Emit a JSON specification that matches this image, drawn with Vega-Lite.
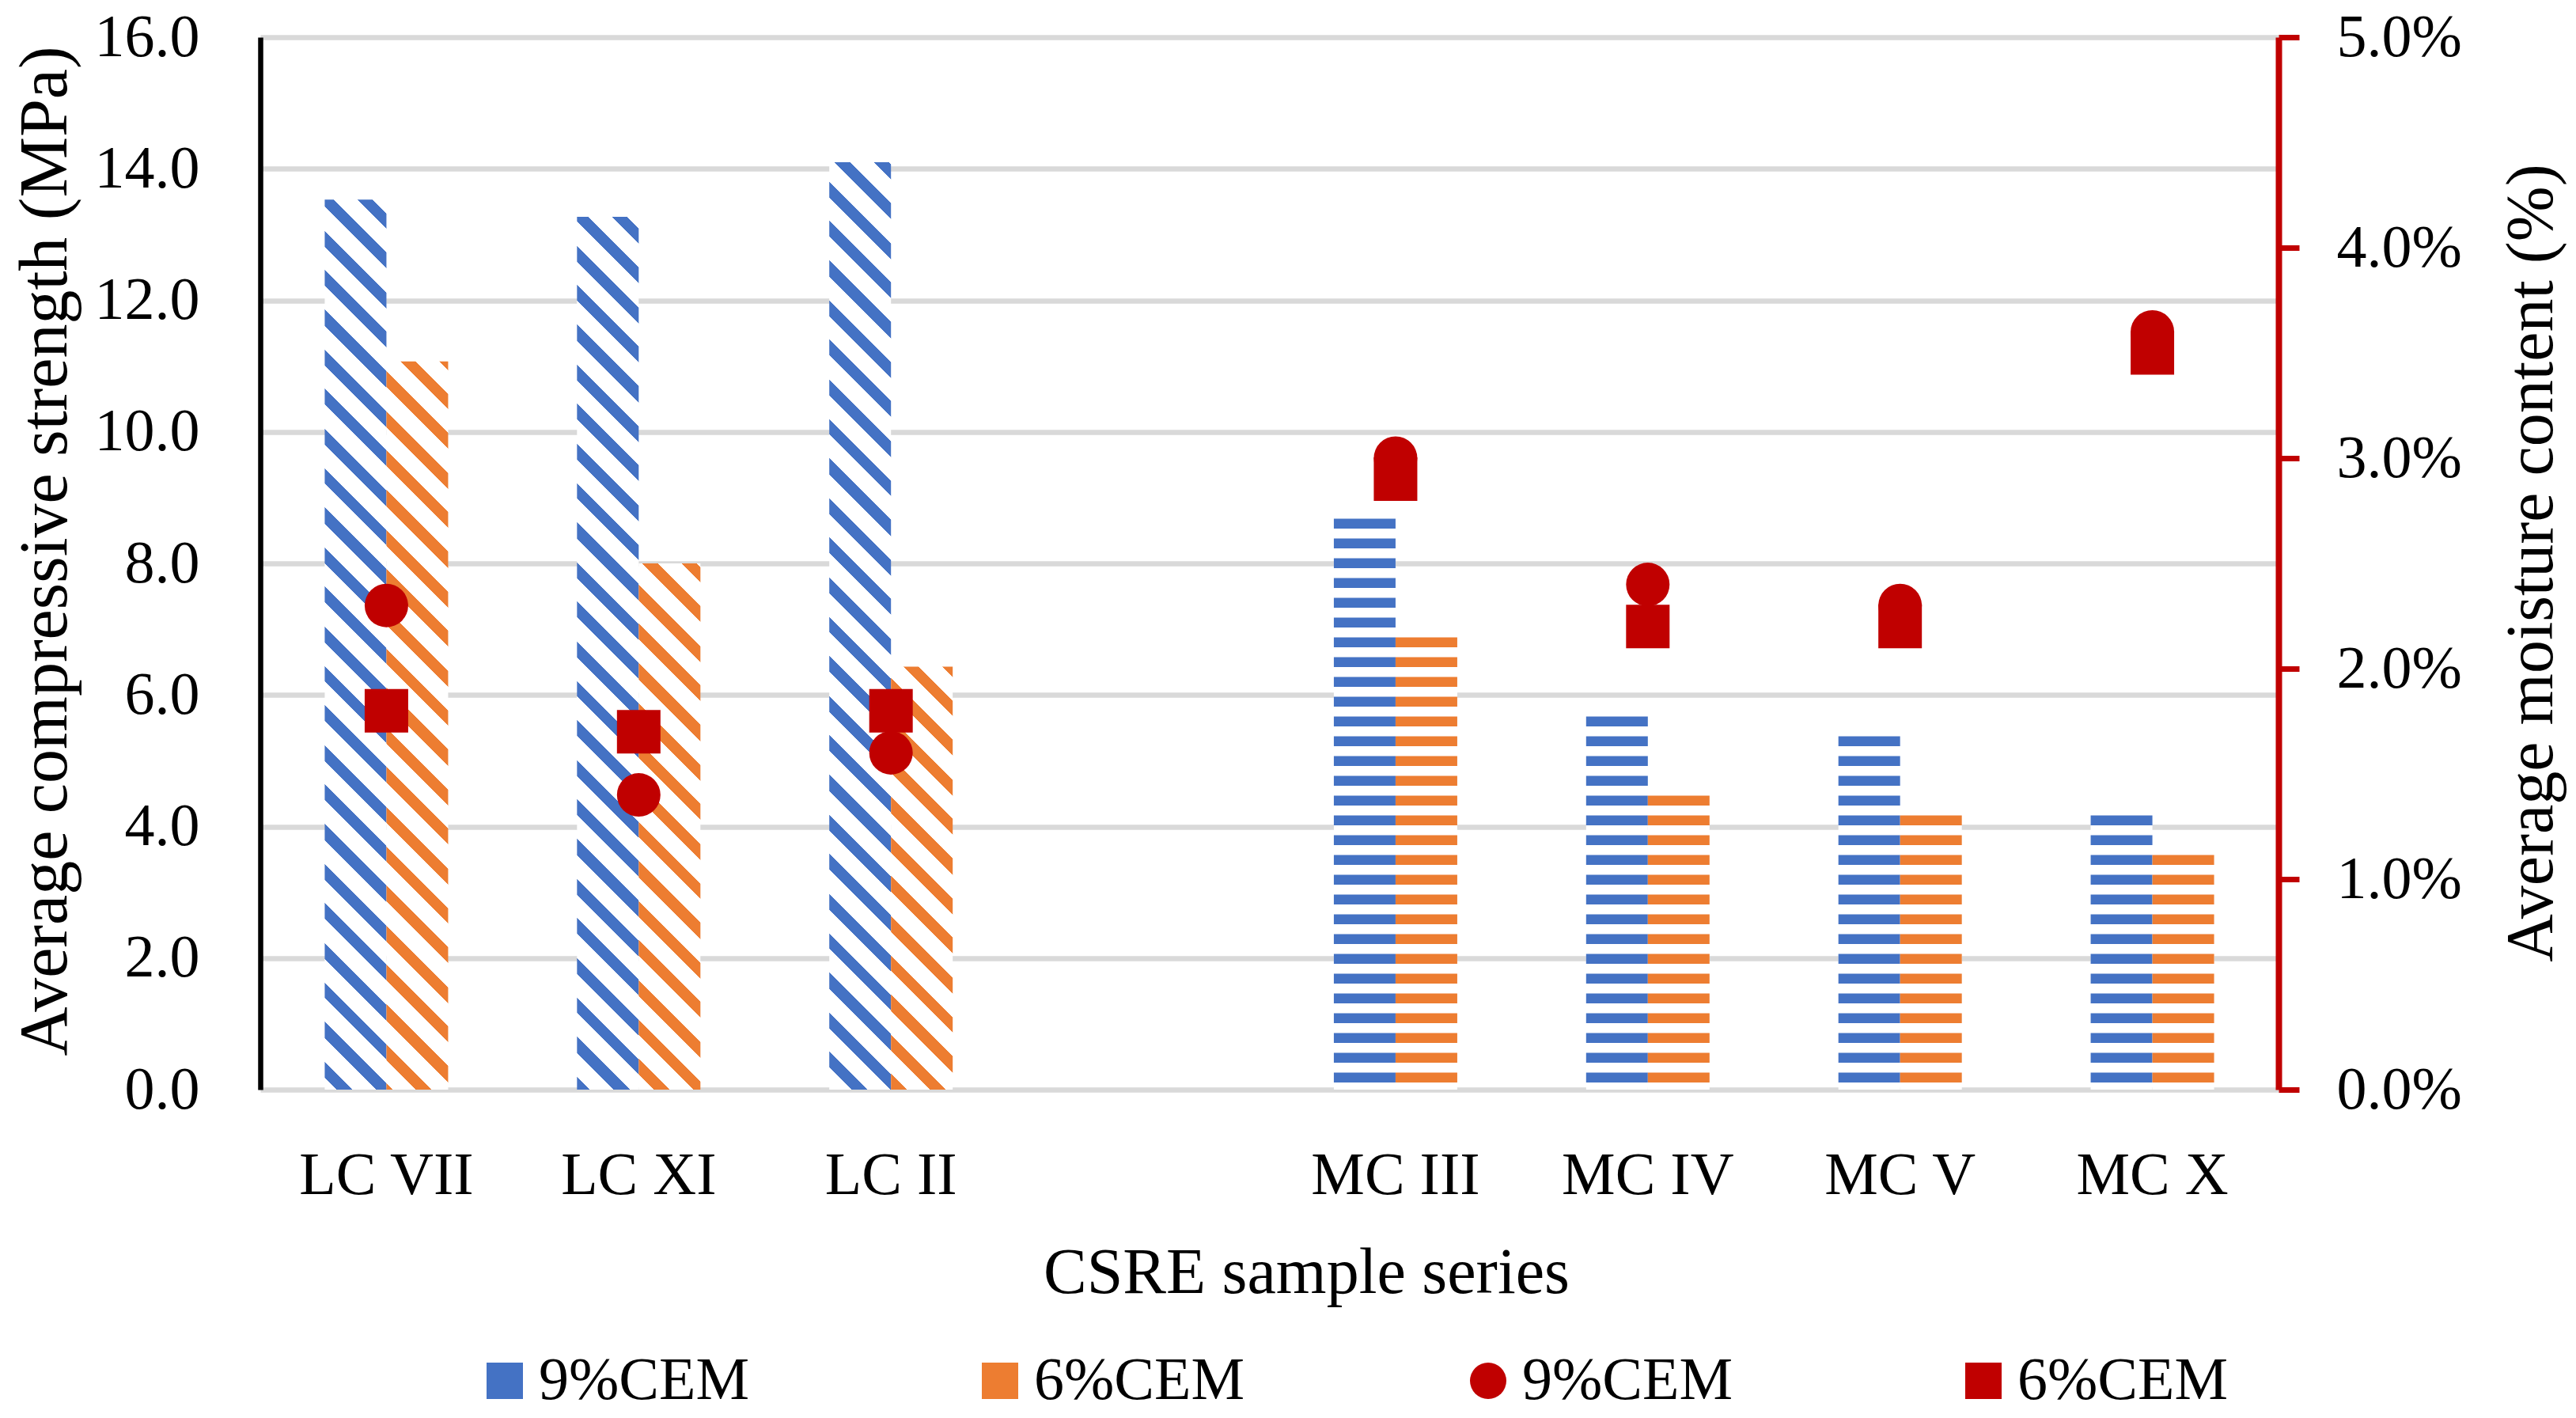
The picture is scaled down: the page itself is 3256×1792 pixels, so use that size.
{
"$schema": "https://vega.github.io/schema/vega-lite/v6.json",
"width": 2551,
"height": 1330,
"autosize": {"type": "none"},
"padding": {"left": 329, "top": 47, "right": 376, "bottom": 415},
"background": "white",
"config": {"view": {"stroke": null}, "font": "Liberation Serif", "axis": {"labelColor": "black", "titleColor": "black", "titleFontWeight": "normal", "labelFont": "Liberation Serif", "titleFont": "Liberation Serif", "labelLimit": 0}, "legend": {"labelFont": "Liberation Serif", "labelColor": "black", "labelLimit": 0}},
"datasets": {
"strength": [
{"sample": "LC VII", "group": "LC", "cement": "9%CEM", "strength": 13.53},
{"sample": "LC VII", "group": "LC", "cement": "6%CEM", "strength": 11.07},
{"sample": "LC XI", "group": "LC", "cement": "9%CEM", "strength": 13.27},
{"sample": "LC XI", "group": "LC", "cement": "6%CEM", "strength": 8.0},
{"sample": "LC II", "group": "LC", "cement": "9%CEM", "strength": 14.1},
{"sample": "LC II", "group": "LC", "cement": "6%CEM", "strength": 6.43},
{"sample": "MC III", "group": "MC", "cement": "9%CEM", "strength": 8.679},
{"sample": "MC III", "group": "MC", "cement": "6%CEM", "strength": 6.874},
{"sample": "MC IV", "group": "MC", "cement": "9%CEM", "strength": 5.671},
{"sample": "MC IV", "group": "MC", "cement": "6%CEM", "strength": 4.468},
{"sample": "MC V", "group": "MC", "cement": "9%CEM", "strength": 5.37},
{"sample": "MC V", "group": "MC", "cement": "6%CEM", "strength": 4.167},
{"sample": "MC X", "group": "MC", "cement": "9%CEM", "strength": 4.167},
{"sample": "MC X", "group": "MC", "cement": "6%CEM", "strength": 3.566}
],
"moisture": [
{"sample": "LC VII", "cem": "9%CEM", "moisture": 0.023},
{"sample": "LC VII", "cem": "6%CEM", "moisture": 0.018},
{"sample": "LC XI", "cem": "9%CEM", "moisture": 0.014},
{"sample": "LC XI", "cem": "6%CEM", "moisture": 0.017},
{"sample": "LC II", "cem": "9%CEM", "moisture": 0.016},
{"sample": "LC II", "cem": "6%CEM", "moisture": 0.018},
{"sample": "MC III", "cem": "9%CEM", "moisture": 0.030},
{"sample": "MC III", "cem": "6%CEM", "moisture": 0.029},
{"sample": "MC IV", "cem": "9%CEM", "moisture": 0.024},
{"sample": "MC IV", "cem": "6%CEM", "moisture": 0.022},
{"sample": "MC V", "cem": "9%CEM", "moisture": 0.023},
{"sample": "MC V", "cem": "6%CEM", "moisture": 0.022},
{"sample": "MC X", "cem": "9%CEM", "moisture": 0.036},
{"sample": "MC X", "cem": "6%CEM", "moisture": 0.035}
]
},
"layer": [
{
"data": {"name": "strength"},
"mark": {"type": "bar", "strokeWidth": 0},
"encoding": {
"x": {"field": "sample", "type": "nominal", "scale": {"domain": ["LC VII", "LC XI", "LC II", " ", "MC III", "MC IV", "MC V", "MC X"], "paddingInner": 0.51078, "paddingOuter": 0.25539}, "title": "CSRE sample series", "axis": {"domain": false, "ticks": false, "labelAngle": 0, "labelFontSize": 76, "labelPadding": 108, "labelBaseline": "middle", "labelLimit": 0, "titleFontSize": 82, "titleX": 1322, "titleY": 231, "titleBaseline": "middle"}},
"xOffset": {"field": "cement", "type": "nominal", "scale": {"domain": ["9%CEM", "6%CEM"]}},
"y": {"field": "strength", "type": "quantitative", "scale": {"domain": [0, 16], "nice": false}, "title": "Average compressive strength (MPa)", "axis": {"orient": "left", "values": [0, 2, 4, 6, 8, 10, 12, 14, 16], "format": ".1f", "grid": true, "gridColor": "#D9D9D9", "gridWidth": 6.5, "domain": true, "domainColor": "black", "domainWidth": 6.5, "ticks": false, "labelFontSize": 76, "labelPadding": 77, "labelBaseline": "middle", "titleFontSize": 86, "titleX": -272, "titleY": 649, "titleBaseline": "middle", "titleAngle": 270}},
"fill": {"field": "cement", "type": "nominal", "scale": {"domain": ["9%CEM", "6%CEM"], "range": ["#4472C4", "#ED7D31"]},
"legend": {"orient": "none", "legendX": 271, "legendY": 1660, "direction": "horizontal", "title": null, "symbolType": "square", "symbolSize": 2116, "symbolStrokeWidth": 0, "labelFontSize": 76, "labelOffset": 5, "labelLimit": 0, "columnPadding": 279, "padding": 0},
"condition": [
{"test": "datum.sample === 'LC VII' && datum.cement === '9%CEM'", "value": {"gradient": "linear", "x1": 0, "y1": -0.098588, "x2": -0.07978, "y2": 1.051766, "stops": [{"offset":0,"color":"#4472C4"},{"offset":0.0154,"color":"#4472C4"},{"offset":0.0154,"color":"#fff"},{"offset":0.0385,"color":"#fff"},{"offset":0.0385,"color":"#4472C4"},{"offset":0.0538,"color":"#4472C4"},{"offset":0.0538,"color":"#fff"},{"offset":0.0769,"color":"#fff"},{"offset":0.0769,"color":"#4472C4"},{"offset":0.0923,"color":"#4472C4"},{"offset":0.0923,"color":"#fff"},{"offset":0.1154,"color":"#fff"},{"offset":0.1154,"color":"#4472C4"},{"offset":0.1308,"color":"#4472C4"},{"offset":0.1308,"color":"#fff"},{"offset":0.1538,"color":"#fff"},{"offset":0.1538,"color":"#4472C4"},{"offset":0.1692,"color":"#4472C4"},{"offset":0.1692,"color":"#fff"},{"offset":0.1923,"color":"#fff"},{"offset":0.1923,"color":"#4472C4"},{"offset":0.2077,"color":"#4472C4"},{"offset":0.2077,"color":"#fff"},{"offset":0.2308,"color":"#fff"},{"offset":0.2308,"color":"#4472C4"},{"offset":0.2462,"color":"#4472C4"},{"offset":0.2462,"color":"#fff"},{"offset":0.2692,"color":"#fff"},{"offset":0.2692,"color":"#4472C4"},{"offset":0.2846,"color":"#4472C4"},{"offset":0.2846,"color":"#fff"},{"offset":0.3077,"color":"#fff"},{"offset":0.3077,"color":"#4472C4"},{"offset":0.3231,"color":"#4472C4"},{"offset":0.3231,"color":"#fff"},{"offset":0.3462,"color":"#fff"},{"offset":0.3462,"color":"#4472C4"},{"offset":0.3615,"color":"#4472C4"},{"offset":0.3615,"color":"#fff"},{"offset":0.3846,"color":"#fff"},{"offset":0.3846,"color":"#4472C4"},{"offset":0.4,"color":"#4472C4"},{"offset":0.4,"color":"#fff"},{"offset":0.4231,"color":"#fff"},{"offset":0.4231,"color":"#4472C4"},{"offset":0.4385,"color":"#4472C4"},{"offset":0.4385,"color":"#fff"},{"offset":0.4615,"color":"#fff"},{"offset":0.4615,"color":"#4472C4"},{"offset":0.4769,"color":"#4472C4"},{"offset":0.4769,"color":"#fff"},{"offset":0.5,"color":"#fff"},{"offset":0.5,"color":"#4472C4"},{"offset":0.5154,"color":"#4472C4"},{"offset":0.5154,"color":"#fff"},{"offset":0.5385,"color":"#fff"},{"offset":0.5385,"color":"#4472C4"},{"offset":0.5538,"color":"#4472C4"},{"offset":0.5538,"color":"#fff"},{"offset":0.5769,"color":"#fff"},{"offset":0.5769,"color":"#4472C4"},{"offset":0.5923,"color":"#4472C4"},{"offset":0.5923,"color":"#fff"},{"offset":0.6154,"color":"#fff"},{"offset":0.6154,"color":"#4472C4"},{"offset":0.6308,"color":"#4472C4"},{"offset":0.6308,"color":"#fff"},{"offset":0.6538,"color":"#fff"},{"offset":0.6538,"color":"#4472C4"},{"offset":0.6692,"color":"#4472C4"},{"offset":0.6692,"color":"#fff"},{"offset":0.6923,"color":"#fff"},{"offset":0.6923,"color":"#4472C4"},{"offset":0.7077,"color":"#4472C4"},{"offset":0.7077,"color":"#fff"},{"offset":0.7308,"color":"#fff"},{"offset":0.7308,"color":"#4472C4"},{"offset":0.7462,"color":"#4472C4"},{"offset":0.7462,"color":"#fff"},{"offset":0.7692,"color":"#fff"},{"offset":0.7692,"color":"#4472C4"},{"offset":0.7846,"color":"#4472C4"},{"offset":0.7846,"color":"#fff"},{"offset":0.8077,"color":"#fff"},{"offset":0.8077,"color":"#4472C4"},{"offset":0.8231,"color":"#4472C4"},{"offset":0.8231,"color":"#fff"},{"offset":0.8462,"color":"#fff"},{"offset":0.8462,"color":"#4472C4"},{"offset":0.8615,"color":"#4472C4"},{"offset":0.8615,"color":"#fff"},{"offset":0.8846,"color":"#fff"},{"offset":0.8846,"color":"#4472C4"},{"offset":0.9,"color":"#4472C4"},{"offset":0.9,"color":"#fff"},{"offset":0.9231,"color":"#fff"},{"offset":0.9231,"color":"#4472C4"},{"offset":0.9385,"color":"#4472C4"},{"offset":0.9385,"color":"#fff"},{"offset":0.9615,"color":"#fff"},{"offset":0.9615,"color":"#4472C4"},{"offset":0.9769,"color":"#4472C4"},{"offset":0.9769,"color":"#fff"},{"offset":1,"color":"#fff"}]}},
{"test": "datum.sample === 'LC XI' && datum.cement === '9%CEM'", "value": {"gradient": "linear", "x1": 0, "y1": -0.102999, "x2": -0.082921, "y2": 1.069667, "stops": [{"offset":0,"color":"#4472C4"},{"offset":0.0154,"color":"#4472C4"},{"offset":0.0154,"color":"#fff"},{"offset":0.0385,"color":"#fff"},{"offset":0.0385,"color":"#4472C4"},{"offset":0.0538,"color":"#4472C4"},{"offset":0.0538,"color":"#fff"},{"offset":0.0769,"color":"#fff"},{"offset":0.0769,"color":"#4472C4"},{"offset":0.0923,"color":"#4472C4"},{"offset":0.0923,"color":"#fff"},{"offset":0.1154,"color":"#fff"},{"offset":0.1154,"color":"#4472C4"},{"offset":0.1308,"color":"#4472C4"},{"offset":0.1308,"color":"#fff"},{"offset":0.1538,"color":"#fff"},{"offset":0.1538,"color":"#4472C4"},{"offset":0.1692,"color":"#4472C4"},{"offset":0.1692,"color":"#fff"},{"offset":0.1923,"color":"#fff"},{"offset":0.1923,"color":"#4472C4"},{"offset":0.2077,"color":"#4472C4"},{"offset":0.2077,"color":"#fff"},{"offset":0.2308,"color":"#fff"},{"offset":0.2308,"color":"#4472C4"},{"offset":0.2462,"color":"#4472C4"},{"offset":0.2462,"color":"#fff"},{"offset":0.2692,"color":"#fff"},{"offset":0.2692,"color":"#4472C4"},{"offset":0.2846,"color":"#4472C4"},{"offset":0.2846,"color":"#fff"},{"offset":0.3077,"color":"#fff"},{"offset":0.3077,"color":"#4472C4"},{"offset":0.3231,"color":"#4472C4"},{"offset":0.3231,"color":"#fff"},{"offset":0.3462,"color":"#fff"},{"offset":0.3462,"color":"#4472C4"},{"offset":0.3615,"color":"#4472C4"},{"offset":0.3615,"color":"#fff"},{"offset":0.3846,"color":"#fff"},{"offset":0.3846,"color":"#4472C4"},{"offset":0.4,"color":"#4472C4"},{"offset":0.4,"color":"#fff"},{"offset":0.4231,"color":"#fff"},{"offset":0.4231,"color":"#4472C4"},{"offset":0.4385,"color":"#4472C4"},{"offset":0.4385,"color":"#fff"},{"offset":0.4615,"color":"#fff"},{"offset":0.4615,"color":"#4472C4"},{"offset":0.4769,"color":"#4472C4"},{"offset":0.4769,"color":"#fff"},{"offset":0.5,"color":"#fff"},{"offset":0.5,"color":"#4472C4"},{"offset":0.5154,"color":"#4472C4"},{"offset":0.5154,"color":"#fff"},{"offset":0.5385,"color":"#fff"},{"offset":0.5385,"color":"#4472C4"},{"offset":0.5538,"color":"#4472C4"},{"offset":0.5538,"color":"#fff"},{"offset":0.5769,"color":"#fff"},{"offset":0.5769,"color":"#4472C4"},{"offset":0.5923,"color":"#4472C4"},{"offset":0.5923,"color":"#fff"},{"offset":0.6154,"color":"#fff"},{"offset":0.6154,"color":"#4472C4"},{"offset":0.6308,"color":"#4472C4"},{"offset":0.6308,"color":"#fff"},{"offset":0.6538,"color":"#fff"},{"offset":0.6538,"color":"#4472C4"},{"offset":0.6692,"color":"#4472C4"},{"offset":0.6692,"color":"#fff"},{"offset":0.6923,"color":"#fff"},{"offset":0.6923,"color":"#4472C4"},{"offset":0.7077,"color":"#4472C4"},{"offset":0.7077,"color":"#fff"},{"offset":0.7308,"color":"#fff"},{"offset":0.7308,"color":"#4472C4"},{"offset":0.7462,"color":"#4472C4"},{"offset":0.7462,"color":"#fff"},{"offset":0.7692,"color":"#fff"},{"offset":0.7692,"color":"#4472C4"},{"offset":0.7846,"color":"#4472C4"},{"offset":0.7846,"color":"#fff"},{"offset":0.8077,"color":"#fff"},{"offset":0.8077,"color":"#4472C4"},{"offset":0.8231,"color":"#4472C4"},{"offset":0.8231,"color":"#fff"},{"offset":0.8462,"color":"#fff"},{"offset":0.8462,"color":"#4472C4"},{"offset":0.8615,"color":"#4472C4"},{"offset":0.8615,"color":"#fff"},{"offset":0.8846,"color":"#fff"},{"offset":0.8846,"color":"#4472C4"},{"offset":0.9,"color":"#4472C4"},{"offset":0.9,"color":"#fff"},{"offset":0.9231,"color":"#fff"},{"offset":0.9231,"color":"#4472C4"},{"offset":0.9385,"color":"#4472C4"},{"offset":0.9385,"color":"#fff"},{"offset":0.9615,"color":"#fff"},{"offset":0.9615,"color":"#4472C4"},{"offset":0.9769,"color":"#4472C4"},{"offset":0.9769,"color":"#fff"},{"offset":1,"color":"#fff"}]}},
{"test": "datum.sample === 'LC II' && datum.cement === '9%CEM'", "value": {"gradient": "linear", "x1": 0, "y1": -0.107287, "x2": -0.073488, "y2": 0.996978, "stops": [{"offset":0,"color":"#4472C4"},{"offset":0.0154,"color":"#4472C4"},{"offset":0.0154,"color":"#fff"},{"offset":0.0385,"color":"#fff"},{"offset":0.0385,"color":"#4472C4"},{"offset":0.0538,"color":"#4472C4"},{"offset":0.0538,"color":"#fff"},{"offset":0.0769,"color":"#fff"},{"offset":0.0769,"color":"#4472C4"},{"offset":0.0923,"color":"#4472C4"},{"offset":0.0923,"color":"#fff"},{"offset":0.1154,"color":"#fff"},{"offset":0.1154,"color":"#4472C4"},{"offset":0.1308,"color":"#4472C4"},{"offset":0.1308,"color":"#fff"},{"offset":0.1538,"color":"#fff"},{"offset":0.1538,"color":"#4472C4"},{"offset":0.1692,"color":"#4472C4"},{"offset":0.1692,"color":"#fff"},{"offset":0.1923,"color":"#fff"},{"offset":0.1923,"color":"#4472C4"},{"offset":0.2077,"color":"#4472C4"},{"offset":0.2077,"color":"#fff"},{"offset":0.2308,"color":"#fff"},{"offset":0.2308,"color":"#4472C4"},{"offset":0.2462,"color":"#4472C4"},{"offset":0.2462,"color":"#fff"},{"offset":0.2692,"color":"#fff"},{"offset":0.2692,"color":"#4472C4"},{"offset":0.2846,"color":"#4472C4"},{"offset":0.2846,"color":"#fff"},{"offset":0.3077,"color":"#fff"},{"offset":0.3077,"color":"#4472C4"},{"offset":0.3231,"color":"#4472C4"},{"offset":0.3231,"color":"#fff"},{"offset":0.3462,"color":"#fff"},{"offset":0.3462,"color":"#4472C4"},{"offset":0.3615,"color":"#4472C4"},{"offset":0.3615,"color":"#fff"},{"offset":0.3846,"color":"#fff"},{"offset":0.3846,"color":"#4472C4"},{"offset":0.4,"color":"#4472C4"},{"offset":0.4,"color":"#fff"},{"offset":0.4231,"color":"#fff"},{"offset":0.4231,"color":"#4472C4"},{"offset":0.4385,"color":"#4472C4"},{"offset":0.4385,"color":"#fff"},{"offset":0.4615,"color":"#fff"},{"offset":0.4615,"color":"#4472C4"},{"offset":0.4769,"color":"#4472C4"},{"offset":0.4769,"color":"#fff"},{"offset":0.5,"color":"#fff"},{"offset":0.5,"color":"#4472C4"},{"offset":0.5154,"color":"#4472C4"},{"offset":0.5154,"color":"#fff"},{"offset":0.5385,"color":"#fff"},{"offset":0.5385,"color":"#4472C4"},{"offset":0.5538,"color":"#4472C4"},{"offset":0.5538,"color":"#fff"},{"offset":0.5769,"color":"#fff"},{"offset":0.5769,"color":"#4472C4"},{"offset":0.5923,"color":"#4472C4"},{"offset":0.5923,"color":"#fff"},{"offset":0.6154,"color":"#fff"},{"offset":0.6154,"color":"#4472C4"},{"offset":0.6308,"color":"#4472C4"},{"offset":0.6308,"color":"#fff"},{"offset":0.6538,"color":"#fff"},{"offset":0.6538,"color":"#4472C4"},{"offset":0.6692,"color":"#4472C4"},{"offset":0.6692,"color":"#fff"},{"offset":0.6923,"color":"#fff"},{"offset":0.6923,"color":"#4472C4"},{"offset":0.7077,"color":"#4472C4"},{"offset":0.7077,"color":"#fff"},{"offset":0.7308,"color":"#fff"},{"offset":0.7308,"color":"#4472C4"},{"offset":0.7462,"color":"#4472C4"},{"offset":0.7462,"color":"#fff"},{"offset":0.7692,"color":"#fff"},{"offset":0.7692,"color":"#4472C4"},{"offset":0.7846,"color":"#4472C4"},{"offset":0.7846,"color":"#fff"},{"offset":0.8077,"color":"#fff"},{"offset":0.8077,"color":"#4472C4"},{"offset":0.8231,"color":"#4472C4"},{"offset":0.8231,"color":"#fff"},{"offset":0.8462,"color":"#fff"},{"offset":0.8462,"color":"#4472C4"},{"offset":0.8615,"color":"#4472C4"},{"offset":0.8615,"color":"#fff"},{"offset":0.8846,"color":"#fff"},{"offset":0.8846,"color":"#4472C4"},{"offset":0.9,"color":"#4472C4"},{"offset":0.9,"color":"#fff"},{"offset":0.9231,"color":"#fff"},{"offset":0.9231,"color":"#4472C4"},{"offset":0.9385,"color":"#4472C4"},{"offset":0.9385,"color":"#fff"},{"offset":0.9615,"color":"#fff"},{"offset":0.9615,"color":"#4472C4"},{"offset":0.9769,"color":"#4472C4"},{"offset":0.9769,"color":"#fff"},{"offset":1,"color":"#fff"}]}},
{"test": "datum.sample === 'LC VII' && datum.cement === '6%CEM'", "value": {"gradient": "linear", "x1": 0, "y1": -0.094948, "x2": -0.118898, "y2": 1.307725, "stops": [{"offset":0,"color":"#ED7D31"},{"offset":0.0154,"color":"#ED7D31"},{"offset":0.0154,"color":"#fff"},{"offset":0.0385,"color":"#fff"},{"offset":0.0385,"color":"#ED7D31"},{"offset":0.0538,"color":"#ED7D31"},{"offset":0.0538,"color":"#fff"},{"offset":0.0769,"color":"#fff"},{"offset":0.0769,"color":"#ED7D31"},{"offset":0.0923,"color":"#ED7D31"},{"offset":0.0923,"color":"#fff"},{"offset":0.1154,"color":"#fff"},{"offset":0.1154,"color":"#ED7D31"},{"offset":0.1308,"color":"#ED7D31"},{"offset":0.1308,"color":"#fff"},{"offset":0.1538,"color":"#fff"},{"offset":0.1538,"color":"#ED7D31"},{"offset":0.1692,"color":"#ED7D31"},{"offset":0.1692,"color":"#fff"},{"offset":0.1923,"color":"#fff"},{"offset":0.1923,"color":"#ED7D31"},{"offset":0.2077,"color":"#ED7D31"},{"offset":0.2077,"color":"#fff"},{"offset":0.2308,"color":"#fff"},{"offset":0.2308,"color":"#ED7D31"},{"offset":0.2462,"color":"#ED7D31"},{"offset":0.2462,"color":"#fff"},{"offset":0.2692,"color":"#fff"},{"offset":0.2692,"color":"#ED7D31"},{"offset":0.2846,"color":"#ED7D31"},{"offset":0.2846,"color":"#fff"},{"offset":0.3077,"color":"#fff"},{"offset":0.3077,"color":"#ED7D31"},{"offset":0.3231,"color":"#ED7D31"},{"offset":0.3231,"color":"#fff"},{"offset":0.3462,"color":"#fff"},{"offset":0.3462,"color":"#ED7D31"},{"offset":0.3615,"color":"#ED7D31"},{"offset":0.3615,"color":"#fff"},{"offset":0.3846,"color":"#fff"},{"offset":0.3846,"color":"#ED7D31"},{"offset":0.4,"color":"#ED7D31"},{"offset":0.4,"color":"#fff"},{"offset":0.4231,"color":"#fff"},{"offset":0.4231,"color":"#ED7D31"},{"offset":0.4385,"color":"#ED7D31"},{"offset":0.4385,"color":"#fff"},{"offset":0.4615,"color":"#fff"},{"offset":0.4615,"color":"#ED7D31"},{"offset":0.4769,"color":"#ED7D31"},{"offset":0.4769,"color":"#fff"},{"offset":0.5,"color":"#fff"},{"offset":0.5,"color":"#ED7D31"},{"offset":0.5154,"color":"#ED7D31"},{"offset":0.5154,"color":"#fff"},{"offset":0.5385,"color":"#fff"},{"offset":0.5385,"color":"#ED7D31"},{"offset":0.5538,"color":"#ED7D31"},{"offset":0.5538,"color":"#fff"},{"offset":0.5769,"color":"#fff"},{"offset":0.5769,"color":"#ED7D31"},{"offset":0.5923,"color":"#ED7D31"},{"offset":0.5923,"color":"#fff"},{"offset":0.6154,"color":"#fff"},{"offset":0.6154,"color":"#ED7D31"},{"offset":0.6308,"color":"#ED7D31"},{"offset":0.6308,"color":"#fff"},{"offset":0.6538,"color":"#fff"},{"offset":0.6538,"color":"#ED7D31"},{"offset":0.6692,"color":"#ED7D31"},{"offset":0.6692,"color":"#fff"},{"offset":0.6923,"color":"#fff"},{"offset":0.6923,"color":"#ED7D31"},{"offset":0.7077,"color":"#ED7D31"},{"offset":0.7077,"color":"#fff"},{"offset":0.7308,"color":"#fff"},{"offset":0.7308,"color":"#ED7D31"},{"offset":0.7462,"color":"#ED7D31"},{"offset":0.7462,"color":"#fff"},{"offset":0.7692,"color":"#fff"},{"offset":0.7692,"color":"#ED7D31"},{"offset":0.7846,"color":"#ED7D31"},{"offset":0.7846,"color":"#fff"},{"offset":0.8077,"color":"#fff"},{"offset":0.8077,"color":"#ED7D31"},{"offset":0.8231,"color":"#ED7D31"},{"offset":0.8231,"color":"#fff"},{"offset":0.8462,"color":"#fff"},{"offset":0.8462,"color":"#ED7D31"},{"offset":0.8615,"color":"#ED7D31"},{"offset":0.8615,"color":"#fff"},{"offset":0.8846,"color":"#fff"},{"offset":0.8846,"color":"#ED7D31"},{"offset":0.9,"color":"#ED7D31"},{"offset":0.9,"color":"#fff"},{"offset":0.9231,"color":"#fff"},{"offset":0.9231,"color":"#ED7D31"},{"offset":0.9385,"color":"#ED7D31"},{"offset":0.9385,"color":"#fff"},{"offset":0.9615,"color":"#fff"},{"offset":0.9615,"color":"#ED7D31"},{"offset":0.9769,"color":"#ED7D31"},{"offset":0.9769,"color":"#fff"},{"offset":1,"color":"#fff"}]}},
{"test": "datum.sample === 'LC XI' && datum.cement === '6%CEM'", "value": {"gradient": "linear", "x1": 0, "y1": -0.185992, "x2": -0.226184, "y2": 1.742371, "stops": [{"offset":0,"color":"#ED7D31"},{"offset":0.0154,"color":"#ED7D31"},{"offset":0.0154,"color":"#fff"},{"offset":0.0385,"color":"#fff"},{"offset":0.0385,"color":"#ED7D31"},{"offset":0.0538,"color":"#ED7D31"},{"offset":0.0538,"color":"#fff"},{"offset":0.0769,"color":"#fff"},{"offset":0.0769,"color":"#ED7D31"},{"offset":0.0923,"color":"#ED7D31"},{"offset":0.0923,"color":"#fff"},{"offset":0.1154,"color":"#fff"},{"offset":0.1154,"color":"#ED7D31"},{"offset":0.1308,"color":"#ED7D31"},{"offset":0.1308,"color":"#fff"},{"offset":0.1538,"color":"#fff"},{"offset":0.1538,"color":"#ED7D31"},{"offset":0.1692,"color":"#ED7D31"},{"offset":0.1692,"color":"#fff"},{"offset":0.1923,"color":"#fff"},{"offset":0.1923,"color":"#ED7D31"},{"offset":0.2077,"color":"#ED7D31"},{"offset":0.2077,"color":"#fff"},{"offset":0.2308,"color":"#fff"},{"offset":0.2308,"color":"#ED7D31"},{"offset":0.2462,"color":"#ED7D31"},{"offset":0.2462,"color":"#fff"},{"offset":0.2692,"color":"#fff"},{"offset":0.2692,"color":"#ED7D31"},{"offset":0.2846,"color":"#ED7D31"},{"offset":0.2846,"color":"#fff"},{"offset":0.3077,"color":"#fff"},{"offset":0.3077,"color":"#ED7D31"},{"offset":0.3231,"color":"#ED7D31"},{"offset":0.3231,"color":"#fff"},{"offset":0.3462,"color":"#fff"},{"offset":0.3462,"color":"#ED7D31"},{"offset":0.3615,"color":"#ED7D31"},{"offset":0.3615,"color":"#fff"},{"offset":0.3846,"color":"#fff"},{"offset":0.3846,"color":"#ED7D31"},{"offset":0.4,"color":"#ED7D31"},{"offset":0.4,"color":"#fff"},{"offset":0.4231,"color":"#fff"},{"offset":0.4231,"color":"#ED7D31"},{"offset":0.4385,"color":"#ED7D31"},{"offset":0.4385,"color":"#fff"},{"offset":0.4615,"color":"#fff"},{"offset":0.4615,"color":"#ED7D31"},{"offset":0.4769,"color":"#ED7D31"},{"offset":0.4769,"color":"#fff"},{"offset":0.5,"color":"#fff"},{"offset":0.5,"color":"#ED7D31"},{"offset":0.5154,"color":"#ED7D31"},{"offset":0.5154,"color":"#fff"},{"offset":0.5385,"color":"#fff"},{"offset":0.5385,"color":"#ED7D31"},{"offset":0.5538,"color":"#ED7D31"},{"offset":0.5538,"color":"#fff"},{"offset":0.5769,"color":"#fff"},{"offset":0.5769,"color":"#ED7D31"},{"offset":0.5923,"color":"#ED7D31"},{"offset":0.5923,"color":"#fff"},{"offset":0.6154,"color":"#fff"},{"offset":0.6154,"color":"#ED7D31"},{"offset":0.6308,"color":"#ED7D31"},{"offset":0.6308,"color":"#fff"},{"offset":0.6538,"color":"#fff"},{"offset":0.6538,"color":"#ED7D31"},{"offset":0.6692,"color":"#ED7D31"},{"offset":0.6692,"color":"#fff"},{"offset":0.6923,"color":"#fff"},{"offset":0.6923,"color":"#ED7D31"},{"offset":0.7077,"color":"#ED7D31"},{"offset":0.7077,"color":"#fff"},{"offset":0.7308,"color":"#fff"},{"offset":0.7308,"color":"#ED7D31"},{"offset":0.7462,"color":"#ED7D31"},{"offset":0.7462,"color":"#fff"},{"offset":0.7692,"color":"#fff"},{"offset":0.7692,"color":"#ED7D31"},{"offset":0.7846,"color":"#ED7D31"},{"offset":0.7846,"color":"#fff"},{"offset":0.8077,"color":"#fff"},{"offset":0.8077,"color":"#ED7D31"},{"offset":0.8231,"color":"#ED7D31"},{"offset":0.8231,"color":"#fff"},{"offset":0.8462,"color":"#fff"},{"offset":0.8462,"color":"#ED7D31"},{"offset":0.8615,"color":"#ED7D31"},{"offset":0.8615,"color":"#fff"},{"offset":0.8846,"color":"#fff"},{"offset":0.8846,"color":"#ED7D31"},{"offset":0.9,"color":"#ED7D31"},{"offset":0.9,"color":"#fff"},{"offset":0.9231,"color":"#fff"},{"offset":0.9231,"color":"#ED7D31"},{"offset":0.9385,"color":"#ED7D31"},{"offset":0.9385,"color":"#fff"},{"offset":0.9615,"color":"#fff"},{"offset":0.9615,"color":"#ED7D31"},{"offset":0.9769,"color":"#ED7D31"},{"offset":0.9769,"color":"#fff"},{"offset":1,"color":"#fff"}]}},
{"test": "datum.sample === 'LC II' && datum.cement === '6%CEM'", "value": {"gradient": "linear", "x1": 0, "y1": -0.159629, "x2": -0.347542, "y2": 2.221883, "stops": [{"offset":0,"color":"#ED7D31"},{"offset":0.0154,"color":"#ED7D31"},{"offset":0.0154,"color":"#fff"},{"offset":0.0385,"color":"#fff"},{"offset":0.0385,"color":"#ED7D31"},{"offset":0.0538,"color":"#ED7D31"},{"offset":0.0538,"color":"#fff"},{"offset":0.0769,"color":"#fff"},{"offset":0.0769,"color":"#ED7D31"},{"offset":0.0923,"color":"#ED7D31"},{"offset":0.0923,"color":"#fff"},{"offset":0.1154,"color":"#fff"},{"offset":0.1154,"color":"#ED7D31"},{"offset":0.1308,"color":"#ED7D31"},{"offset":0.1308,"color":"#fff"},{"offset":0.1538,"color":"#fff"},{"offset":0.1538,"color":"#ED7D31"},{"offset":0.1692,"color":"#ED7D31"},{"offset":0.1692,"color":"#fff"},{"offset":0.1923,"color":"#fff"},{"offset":0.1923,"color":"#ED7D31"},{"offset":0.2077,"color":"#ED7D31"},{"offset":0.2077,"color":"#fff"},{"offset":0.2308,"color":"#fff"},{"offset":0.2308,"color":"#ED7D31"},{"offset":0.2462,"color":"#ED7D31"},{"offset":0.2462,"color":"#fff"},{"offset":0.2692,"color":"#fff"},{"offset":0.2692,"color":"#ED7D31"},{"offset":0.2846,"color":"#ED7D31"},{"offset":0.2846,"color":"#fff"},{"offset":0.3077,"color":"#fff"},{"offset":0.3077,"color":"#ED7D31"},{"offset":0.3231,"color":"#ED7D31"},{"offset":0.3231,"color":"#fff"},{"offset":0.3462,"color":"#fff"},{"offset":0.3462,"color":"#ED7D31"},{"offset":0.3615,"color":"#ED7D31"},{"offset":0.3615,"color":"#fff"},{"offset":0.3846,"color":"#fff"},{"offset":0.3846,"color":"#ED7D31"},{"offset":0.4,"color":"#ED7D31"},{"offset":0.4,"color":"#fff"},{"offset":0.4231,"color":"#fff"},{"offset":0.4231,"color":"#ED7D31"},{"offset":0.4385,"color":"#ED7D31"},{"offset":0.4385,"color":"#fff"},{"offset":0.4615,"color":"#fff"},{"offset":0.4615,"color":"#ED7D31"},{"offset":0.4769,"color":"#ED7D31"},{"offset":0.4769,"color":"#fff"},{"offset":0.5,"color":"#fff"},{"offset":0.5,"color":"#ED7D31"},{"offset":0.5154,"color":"#ED7D31"},{"offset":0.5154,"color":"#fff"},{"offset":0.5385,"color":"#fff"},{"offset":0.5385,"color":"#ED7D31"},{"offset":0.5538,"color":"#ED7D31"},{"offset":0.5538,"color":"#fff"},{"offset":0.5769,"color":"#fff"},{"offset":0.5769,"color":"#ED7D31"},{"offset":0.5923,"color":"#ED7D31"},{"offset":0.5923,"color":"#fff"},{"offset":0.6154,"color":"#fff"},{"offset":0.6154,"color":"#ED7D31"},{"offset":0.6308,"color":"#ED7D31"},{"offset":0.6308,"color":"#fff"},{"offset":0.6538,"color":"#fff"},{"offset":0.6538,"color":"#ED7D31"},{"offset":0.6692,"color":"#ED7D31"},{"offset":0.6692,"color":"#fff"},{"offset":0.6923,"color":"#fff"},{"offset":0.6923,"color":"#ED7D31"},{"offset":0.7077,"color":"#ED7D31"},{"offset":0.7077,"color":"#fff"},{"offset":0.7308,"color":"#fff"},{"offset":0.7308,"color":"#ED7D31"},{"offset":0.7462,"color":"#ED7D31"},{"offset":0.7462,"color":"#fff"},{"offset":0.7692,"color":"#fff"},{"offset":0.7692,"color":"#ED7D31"},{"offset":0.7846,"color":"#ED7D31"},{"offset":0.7846,"color":"#fff"},{"offset":0.8077,"color":"#fff"},{"offset":0.8077,"color":"#ED7D31"},{"offset":0.8231,"color":"#ED7D31"},{"offset":0.8231,"color":"#fff"},{"offset":0.8462,"color":"#fff"},{"offset":0.8462,"color":"#ED7D31"},{"offset":0.8615,"color":"#ED7D31"},{"offset":0.8615,"color":"#fff"},{"offset":0.8846,"color":"#fff"},{"offset":0.8846,"color":"#ED7D31"},{"offset":0.9,"color":"#ED7D31"},{"offset":0.9,"color":"#fff"},{"offset":0.9231,"color":"#fff"},{"offset":0.9231,"color":"#ED7D31"},{"offset":0.9385,"color":"#ED7D31"},{"offset":0.9385,"color":"#fff"},{"offset":0.9615,"color":"#fff"},{"offset":0.9615,"color":"#ED7D31"},{"offset":0.9769,"color":"#ED7D31"},{"offset":0.9769,"color":"#fff"},{"offset":1,"color":"#fff"}]}},
{"test": "datum.group === 'MC'", "value": "#ffffff"}
]}
}
},
{
"data": {"name": "strength"},
"transform": [{"filter": "datum.group === 'MC'"}],
"mark": {"type": "rule", "strokeWidth": 78, "strokeDash": [12.4, 12.6], "strokeDashOffset": 0, "strokeCap": "butt"},
"encoding": {
"x": {"field": "sample", "type": "nominal", "scale": {"domain": ["LC VII", "LC XI", "LC II", " ", "MC III", "MC IV", "MC V", "MC X"], "paddingInner": 0.51078, "paddingOuter": 0.25539}, "title": "CSRE sample series", "axis": {"domain": false, "ticks": false, "labelAngle": 0, "labelFontSize": 76, "labelPadding": 108, "labelBaseline": "middle", "labelLimit": 0, "titleFontSize": 82, "titleX": 1322, "titleY": 231, "titleBaseline": "middle"}},
"xOffset": {"field": "cement", "type": "nominal", "scale": {"domain": ["9%CEM", "6%CEM"]}},
"y": {"field": "strength", "type": "quantitative", "scale": {"domain": [0, 16], "nice": false}, "axis": null},
"y2": {"datum": 0},
"stroke": {"condition": {"test": "datum.cement === '9%CEM'", "value": "#4472C4"}, "value": "#ED7D31"}
}
},
{
"data": {"name": "moisture"},
"mark": {"type": "point", "filled": true, "size": 3025, "opacity": 1, "color": "#C00000", "strokeWidth": 0},
"encoding": {
"x": {"field": "sample", "type": "nominal", "scale": {"domain": ["LC VII", "LC XI", "LC II", " ", "MC III", "MC IV", "MC V", "MC X"], "paddingInner": 0.51078, "paddingOuter": 0.25539}, "title": "CSRE sample series", "axis": {"domain": false, "ticks": false, "labelAngle": 0, "labelFontSize": 76, "labelPadding": 108, "labelBaseline": "middle", "labelLimit": 0, "titleFontSize": 82, "titleX": 1322, "titleY": 231, "titleBaseline": "middle"}},
"y": {"field": "moisture", "type": "quantitative", "scale": {"domain": [0, 0.05], "nice": false}, "title": "Average moisture content (%)", "axis": {"orient": "right", "values": [0, 0.01, 0.02, 0.03, 0.04, 0.05], "format": ".1%", "grid": false, "domain": true, "domainColor": "#C00000", "domainWidth": 8, "ticks": true, "tickColor": "#C00000", "tickWidth": 7, "tickSize": 26, "labelFontSize": 76, "labelPadding": 47, "labelBaseline": "middle", "titleFontSize": 84, "titleAngle": 270, "titleX": 320, "titleY": 664, "titleBaseline": "middle"}},
"shape": {"field": "cem", "type": "nominal", "sort": ["9%CEM", "6%CEM"], "scale": {"range": ["circle", "square"]}, "legend": {"orient": "none", "legendX": 1514, "legendY": 1660, "direction": "horizontal", "title": null, "symbolSize": 2116, "symbolFillColor": "#C00000", "symbolStrokeColor": "#C00000", "symbolStrokeWidth": 0, "labelFontSize": 76, "labelOffset": 5, "labelLimit": 0, "columnPadding": 279, "padding": 0}}
}
}
],
"resolve": {"scale": {"y": "independent"}}
}
